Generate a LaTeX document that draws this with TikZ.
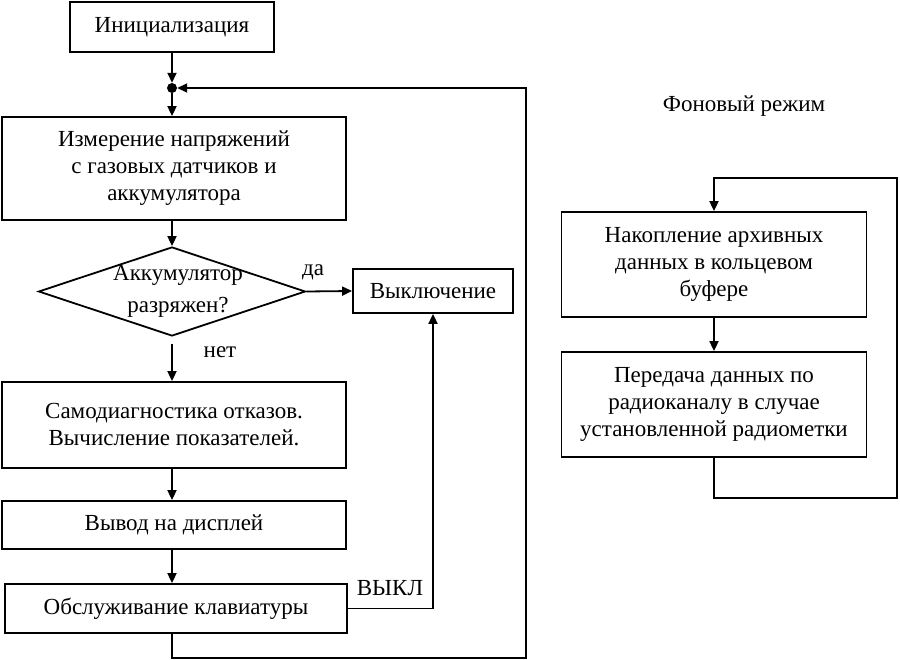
\documentclass[tikz,border=0pt]{standalone}
\usepackage{fontspec}
\setmainfont{Liberation Serif}
\usetikzlibrary{arrows.meta,shapes.geometric}
\begin{document}
\begin{tikzpicture}[x=1pt,y=-1pt,
  txt/.style={font=\fontsize{23}{27}\selectfont},
  box/.style={txt,draw,line width=1.8pt,rectangle,inner sep=0pt,align=center},
  lbl/.style={txt,inner sep=0pt},
  conn/.style={line width=1.8pt},
  arr/.style={conn,-{Triangle[length=10pt,width=9pt]}}]
\useasboundingbox (0,0) rectangle (900,660);
% main flow
\node[box,minimum width=204pt,minimum height=50pt] (init) at (172,27) {Инициализация};
\node[circle,fill,inner sep=0pt,minimum size=10pt] (dot) at (172,88) {};
\node[box,minimum width=344pt,minimum height=103pt] (meas) at (174,168.5)
  {Измерение напряжений\\с газовых датчиков и\\аккумулятора};
\node[draw,diamond,conn,minimum width=267pt,minimum height=89pt,inner sep=0pt] (dec) at (172,291.5) {};
\node[lbl,align=center,font=\fontsize{23}{32}\selectfont] (dectxt) at (178,291) {Аккумулятор\\разряжен?};
\node[box,minimum width=160pt,minimum height=44pt] (off) at (433,291) {Выключение};
\node[box,minimum width=344pt,minimum height=86pt] (diag) at (174,425)
  {Самодиагностика отказов.\\Вычисление показателей.};
\node[box,minimum width=344pt,minimum height=48pt] (disp) at (174,525) {Вывод на дисплей};
\node[box,minimum width=342pt,minimum height=49pt] (kbd) at (176,608.5) {Обслуживание клавиатуры};
\node[lbl] (yes) at (313,272) {да};
\node[lbl] (no) at (220,352) {нет};
\node[lbl] (vykl) at (390,588) {ВЫКЛ};
\coordinate (loopR) at (526,658);
% main connectors
\draw[arr] (init.south -| dot) -- (dot.north);
\draw[arr] (dot.south) -- (meas.north -| dot);
\draw[arr] (meas.south -| dot) -- (dec.north);
\draw[arr] (dec.east) -- (off.west);
\draw[arr] ([yshift=-7pt]dec.south) -- (diag.north -| dec.south);
\draw[arr] (diag.south -| dot) -- (disp.north -| dot);
\draw[arr] (disp.south -| dot) -- (kbd.north -| dot);
\draw[arr] (kbd.east) -| (off.south);
\draw[arr] (kbd.south -| dot) |- (loopR) |- (dot.east);
% background mode
\node[lbl] (title) at (744,106) {Фоновый режим};
\node[box,minimum width=305pt,minimum height=105pt] (acc) at (714,264.5)
  {Накопление архивных\\данных в кольцевом\\буфере};
\node[box,minimum width=305pt,minimum height=105pt] (tx) at (714,404.5)
  {Передача данных по\\радиоканалу в случае\\установленной радиометки};
\coordinate (bgB) at (897,498);
\coordinate (bgT) at (897,178);
\draw[arr] (acc.south) -- (tx.north);
\draw[arr] (tx.south) |- (bgB) -- (bgT) -| (acc.north);
\end{tikzpicture}
\end{document}
